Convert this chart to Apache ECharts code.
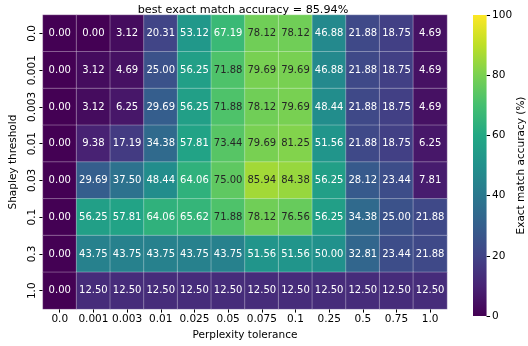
<!DOCTYPE html>
<html>
<head>
<meta charset="utf-8">
<script src="https://cdn.jsdelivr.net/npm/echarts@6/dist/echarts.min.js"></script>
<style>
  html, body { margin: 0; padding: 0; background: #fff; }
  #main { width: 528px; height: 346px; }
</style>
</head>
<body>
<div id="main"></div>
<script>
const tolerances = ['0.0', '0.001', '0.003', '0.01', '0.025', '0.05', '0.075', '0.1', '0.25', '0.5', '0.75', '1.0'];
const thresholds = ['0.0', '0.001', '0.003', '0.01', '0.03', '0.1', '0.3', '1.0'];

// one row per Shapley threshold, one column per perplexity tolerance
const row00 = [0.00, 0.00, 3.12, 20.31, 53.12, 67.19, 78.12, 78.12, 46.88, 21.88, 18.75, 4.69];
const row0001 = [0.00, 3.12, 4.69, 25.00, 56.25, 71.88, 79.69, 79.69, 46.88, 21.88, 18.75, 4.69];
const row0003 = [0.00, 3.12, 6.25, 29.69, 56.25, 71.88, 78.12, 79.69, 48.44, 21.88, 18.75, 4.69];
const row001 = [0.00, 9.38, 17.19, 34.38, 57.81, 73.44, 79.69, 81.25, 51.56, 21.88, 18.75, 6.25];
const row003 = [0.00, 29.69, 37.50, 48.44, 64.06, 75.00, 85.94, 84.38, 56.25, 28.12, 23.44, 7.81];
const row01 = [0.00, 56.25, 57.81, 64.06, 65.62, 71.88, 78.12, 76.56, 56.25, 34.38, 25.00, 21.88];
const row03 = [0.00, 43.75, 43.75, 43.75, 43.75, 43.75, 51.56, 51.56, 50.00, 32.81, 23.44, 21.88];
const row10 = [0.00, 12.50, 12.50, 12.50, 12.50, 12.50, 12.50, 12.50, 12.50, 12.50, 12.50, 12.50];
const rows = [row00, row0001, row0003, row001, row003, row01, row03, row10];

// colorbar range
const colorMin = 0;
const colorMax = 100;

const viridis = ['#440154', '#482475', '#414487', '#355f8d', '#2a788e', '#21918c',
                 '#22a884', '#44bf70', '#7ad151', '#bddf26', '#fde725'];

const font = 'DejaVu Sans';

let cells = [];
let best = 0;
rows.forEach((row, y) => {
    row.forEach((v, x) => {
        best = Math.max(best, v);
        cells.push({
            value: [x, y, v],
            label: { color: v > 70 ? '#262626' : '#ffffff' }
        });
    });
});

// gradient for the colorbar, bottom (0) to top (100)
let barGradient = new echarts.graphic.LinearGradient(0, 1, 0, 0,
    viridis.map((c, i) => ({ offset: i / (viridis.length - 1), color: c })));

let myChart = echarts.init(document.getElementById('main'));

let option = {
    animation: false,
    textStyle: { fontFamily: font },
    title: {
        text: 'best exact match accuracy = ' + best.toFixed(2) + '%',
        left: 238,
        top: 0,
        textAlign: 'center',
        textStyle: { fontFamily: font, fontSize: 11.2, fontWeight: 'normal', color: '#000' }
    },
    grid: [
        { left: 29, right: 81, top: 15, bottom: 30 },
        { left: 473, width: 16, top: 15, bottom: 30 }
    ],
    xAxis: [{
        type: 'category',
        data: tolerances,
        gridIndex: 0,
        name: 'Perplexity tolerance',
        nameLocation: 'middle',
        nameGap: 19,
        nameTextStyle: { fontFamily: font, fontSize: 10.5, color: '#000' },
        axisLine: { show: false },
        axisTick: { show: true, length: 3.5, alignWithLabel: true, interval: 0, lineStyle: { color: '#000' } },
        axisLabel: { fontFamily: font, fontSize: 10.5, color: '#000', margin: 5, interval: 0 },
        splitLine: { show: false }
    }, {
        type: 'category',
        data: ['bar'],
        gridIndex: 1,
        show: false
    }],
    yAxis: [{
        type: 'category',
        data: thresholds,
        inverse: true,
        gridIndex: 0,
        name: 'Shapley threshold',
        nameLocation: 'middle',
        nameGap: 19,
        nameTextStyle: { fontFamily: font, fontSize: 10.5, color: '#000' },
        axisLine: { show: false },
        axisTick: { show: true, length: 3.5, alignWithLabel: true, interval: 0, lineStyle: { color: '#000' } },
        axisLabel: { fontFamily: font, fontSize: 10.5, color: '#000', rotate: 90, margin: 5, interval: 0 },
        splitLine: { show: false }
    }, {
        type: 'value',
        gridIndex: 1,
        position: 'right',
        min: colorMin,
        max: colorMax,
        interval: 20,
        name: 'Exact match accuracy (%)',
        nameLocation: 'middle',
        nameRotate: 90,
        nameGap: 26,
        nameTextStyle: { fontFamily: font, fontSize: 10.5, color: '#000' },
        axisLine: { show: false },
        axisTick: { show: true, length: 3.5, lineStyle: { color: '#000' } },
        axisLabel: { fontFamily: font, fontSize: 10.5, color: '#000', margin: 5.5 },
        splitLine: { show: false }
    }],
    visualMap: {
        type: 'continuous',
        show: false,
        min: colorMin,
        max: colorMax,
        seriesIndex: 0,
        inRange: { color: viridis }
    },
    series: [{
        type: 'heatmap',
        xAxisIndex: 0,
        yAxisIndex: 0,
        data: cells,
        label: {
            show: true,
            fontFamily: font,
            fontSize: 10,
            formatter: p => p.value[2].toFixed(2)
        },
        itemStyle: { borderColor: 'rgba(255,255,255,0.45)', borderWidth: 0.7 },
        emphasis: { disabled: true }
    }, {
        type: 'bar',
        xAxisIndex: 1,
        yAxisIndex: 1,
        data: [colorMax],
        barWidth: '100%',
        itemStyle: { color: barGradient },
        silent: true
    }]
};

myChart.setOption(option);
</script>
</body>
</html>
